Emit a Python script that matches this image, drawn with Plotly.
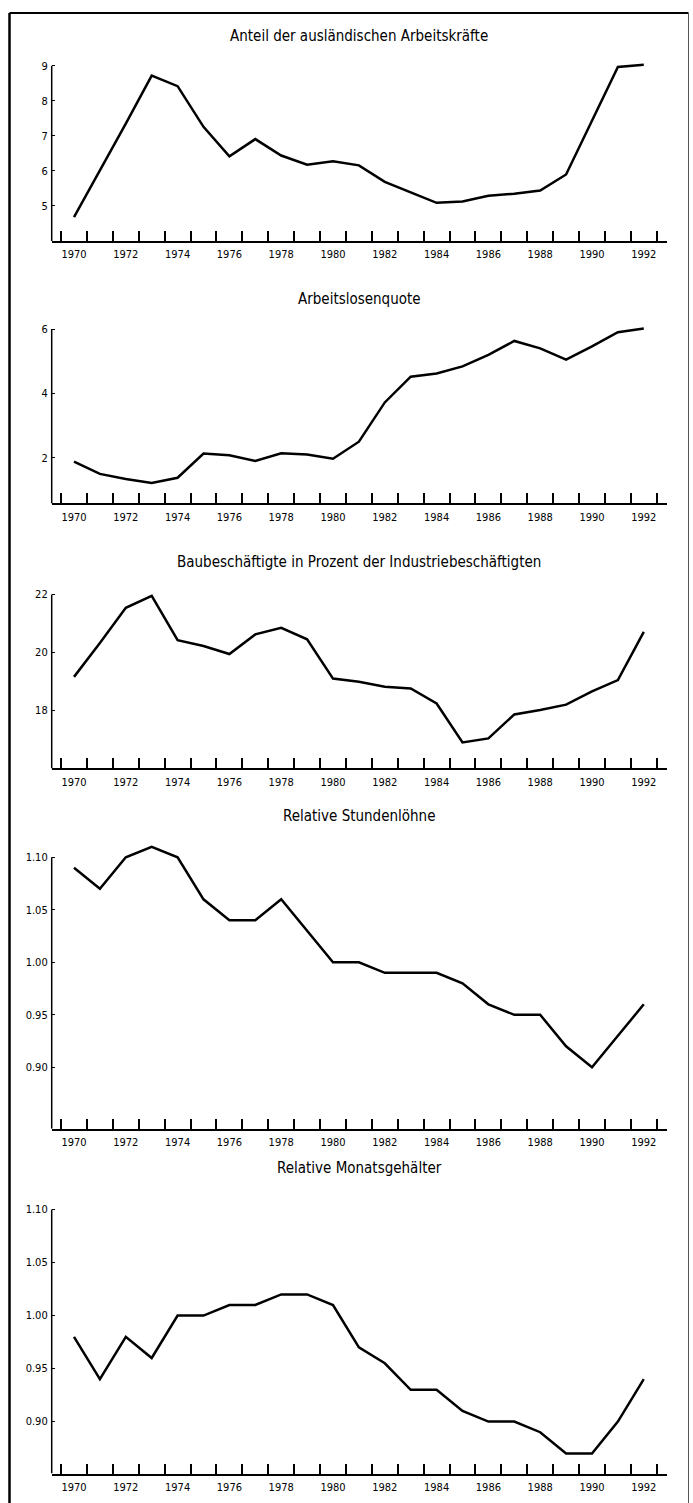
import plotly.graph_objects as go

W, H = 693, 1503

years = list(range(1970, 1993))
year_labels = list(range(1970, 1993, 2))
half_year_ticks = [y - 0.5 for y in range(1970, 1994)]

titles = [
    "Anteil der ausländischen Arbeitskräfte",
    "Arbeitslosenquote",
    "Baubeschäftigte in Prozent der Industriebeschäftigten",
    "Relative Stundenlöhne",
    "Relative Monatsgehälter",
]

auslaender = [4.68, 6.0, 7.35, 8.72, 8.42, 7.26, 6.42, 6.91, 6.44, 6.18, 6.28, 6.16,
              5.69, 5.39, 5.09, 5.13, 5.29, 5.35, 5.44, 5.9, 7.42, 8.97, 9.03]
arbeitslos = [1.88, 1.5, 1.34, 1.22, 1.38, 2.13, 2.08, 1.9, 2.14, 2.1, 1.97, 2.5,
              3.72, 4.52, 4.62, 4.84, 5.2, 5.63, 5.4, 5.05, 5.46, 5.9, 6.02]
bau = [19.15, 20.32, 21.54, 21.95, 20.42, 20.22, 19.94, 20.62, 20.85, 20.45, 19.09, 18.98,
       18.81, 18.75, 18.23, 16.88, 17.02, 17.85, 18.0, 18.19, 18.65, 19.04, 20.71]
stundenloehne = [1.09, 1.07, 1.10, 1.11, 1.10, 1.06, 1.04, 1.04, 1.06, 1.03, 1.00, 1.00,
                 0.99, 0.99, 0.99, 0.98, 0.96, 0.95, 0.95, 0.92, 0.90, 0.93, 0.96]
monatsgehaelter = [0.98, 0.94, 0.98, 0.96, 1.00, 1.00, 1.01, 1.01, 1.02, 1.02, 1.01, 0.97,
                   0.955, 0.93, 0.93, 0.91, 0.90, 0.90, 0.89, 0.87, 0.87, 0.90, 0.94]

series = [auslaender, arbeitslos, bau, stundenloehne, monatsgehaelter]

y_bottom = [4.0, 0.58, 15.98, 0.8415, 0.851]
y_tickvals = [[5, 6, 7, 8, 9], [2, 4, 6], [18, 20, 22],
              [0.90, 0.95, 1.00, 1.05, 1.10], [0.90, 0.95, 1.00, 1.05, 1.10]]
y_range_top = [9.1, 6.1, 22.1, 1.12, 1.105]
y_tickfmt = ["d", "d", "d", ".2f", ".2f"]

# pixel layout: (pixel of top tick, pixel of x axis) and title centre
plot_px = [(63, 238.5), (326.7, 501.5), (592.7, 767), (856, 1128), (1209, 1473.5)]
title_px = [33, 297, 560, 815, 1167]
x_px = (51.7, 667)
x_range = [1969.139, 1992.896]

FONT = "Liberation Sans Narrow, Arial Narrow, DejaVu Sans Condensed, sans-serif"

fig = go.Figure()
layout = dict(
    width=W, height=H,
    margin=dict(l=0, r=0, t=0, b=0),
    paper_bgcolor="white", plot_bgcolor="white",
    showlegend=False,
    font=dict(family=FONT, size=12, color="black"),
    annotations=[], shapes=[],
)

for i, vals in enumerate(series):
    k = "" if i == 0 else str(i + 1)
    fig.add_trace(go.Scatter(x=years, y=vals, mode="lines",
                             line=dict(color="black", width=2.5),
                             xaxis="x" + k, yaxis="y" + k, hoverinfo="skip"))
    top_px, bot_px = plot_px[i]
    top_tick = y_tickvals[i][-1]
    ppu = (bot_px - top_px) / (top_tick - y_bottom[i])
    dom_top_px = top_px - (y_range_top[i] - top_tick) * ppu
    layout["xaxis" + k] = dict(
        domain=[x_px[0] / W, x_px[1] / W],
        anchor="y" + k,
        range=x_range,
        tickmode="array", tickvals=year_labels, ticktext=[str(y) for y in year_labels],
        ticks="", showgrid=False, zeroline=False,
        showline=True, linecolor="black", linewidth=2,
        ticklabelstandoff=2,
        tickfont=dict(family=FONT, size=11),
        minor=dict(tickmode="array", tickvals=half_year_ticks, ticks="inside",
                   ticklen=10, tickwidth=1.5, tickcolor="black", showgrid=False),
    )
    layout["yaxis" + k] = dict(
        domain=[1 - bot_px / H, 1 - dom_top_px / H],
        anchor="x" + k,
        range=[y_bottom[i], y_range_top[i]],
        tickmode="array", tickvals=y_tickvals[i], tickformat=y_tickfmt[i],
        ticks="inside", ticklen=3, tickwidth=1, tickcolor="black",
        showgrid=False, zeroline=False, showline=False,
        ticklabelstandoff=3,
        tickfont=dict(family=FONT, size=11),
    )
    # y axis line only up to the top tick
    layout["shapes"].append(dict(
        type="line", xref="x" + k + " domain", yref="y" + k,
        x0=0, x1=0, y0=y_bottom[i], y1=top_tick,
        line=dict(color="black", width=1.5),
    ))
    layout["annotations"].append(dict(
        text=titles[i], xref="paper", yref="paper",
        x=(x_px[0] + x_px[1]) / 2 / W, y=1 - title_px[i] / H,
        xanchor="center", yanchor="middle", showarrow=False,
        font=dict(family=FONT, size=15, color="black"),
    ))

# outer frame of the figure
layout["shapes"] += [
    dict(type="line", xref="paper", yref="paper", x0=9.5 / W, x1=9.5 / W,
         y0=0, y1=1 - 10 / H, line=dict(color="black", width=2.5)),
    dict(type="line", xref="paper", yref="paper", x0=9.5 / W, x1=688.5 / W,
         y0=1 - 10 / H, y1=1 - 10 / H, line=dict(color="black", width=2)),
    dict(type="line", xref="paper", yref="paper", x0=688.5 / W, x1=688.5 / W,
         y0=0, y1=1 - 10 / H, line=dict(color="#555555", width=1)),
]

fig.update_layout(**layout)
fig.write_html("out.html")
